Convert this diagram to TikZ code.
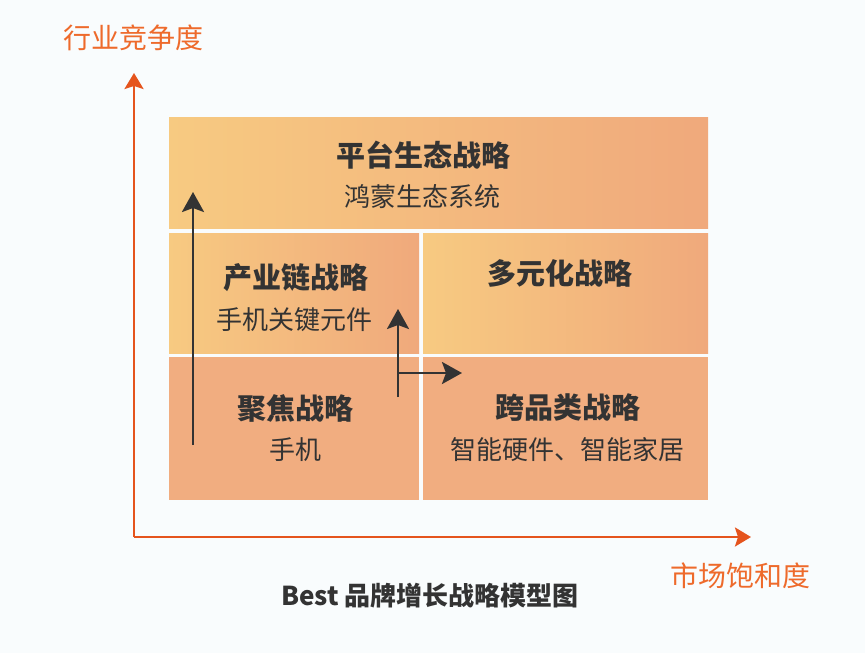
\documentclass[tikz,border=0pt]{standalone}
\usepackage{fontspec}
\usetikzlibrary{arrows.meta}
\newfontfamily\cjk{Noto Sans CJK SC}
\definecolor{bgcol}{HTML}{F9FCFD}
\definecolor{boxl}{HTML}{F7CA81}
\definecolor{boxr}{HTML}{F0A97C}
\definecolor{boxo}{HTML}{F1AD80}
\definecolor{ink}{HTML}{333333}
\definecolor{axline}{HTML}{E5541D}
\definecolor{axtext}{HTML}{EE6A2B}

\begin{document}
\begin{tikzpicture}[x=1pt, y=-1pt,
	box/.style={inner sep=0pt, outer sep=0pt},
	warm/.style={left color=boxl, right color=boxr},
	flat/.style={fill=boxo},
	title/.style={font=\cjk\bfseries\fontsize{29}{32}\selectfont, text=ink},
	sub/.style={font=\cjk\fontsize{26}{30}\selectfont, text=ink},
	axlabel/.style={font=\cjk\fontsize{28}{32}\selectfont, text=axtext},
	axis/.style={draw=axline, line width=2.6pt, -{Stealth[length=16pt, width=19pt, inset=3pt]}},
	move/.style={draw=ink, line width=2.8pt, -{Stealth[length=20pt, width=22pt, inset=4pt]}}]
	\path[fill=bgcol] (0,0) rectangle (865,653);
	% quadrant boxes
	\node[box, warm, minimum width=539pt, minimum height=111pt] (plat) at (438.5,172.5) {};
	\node[box, warm, minimum width=250pt, minimum height=120pt] (chain) at (294,293) {};
	\node[box, warm, minimum width=285pt, minimum height=120pt] (multi) at (565.5,293) {};
	\node[box, flat, minimum width=250pt, minimum height=143pt] (focus) at (294,428.5) {};
	\node[box, flat, minimum width=285pt, minimum height=143pt] (cross) at (565.5,428.5) {};
	% labels
	\node[title] (platT) at (423,155) {平台生态战略};
	\node[sub] (platS) at (422,197) {鸿蒙生态系统};
	\node[title] (chainT) at (296,278) {产业链战略};
	\node[sub] (chainS) at (294,320) {手机关键元件};
	\node[title] (multiT) at (560,273) {多元化战略};
	\node[title] (focusT) at (295,408) {聚焦战略};
	\node[sub] (focusS) at (295,450) {手机};
	\node[title] (crossT) at (568,408) {跨品类战略};
	\node[sub] (crossS) at (567,450) {智能硬件、智能家居};
	% axes
	\coordinate (orig) at (134,537);
	\coordinate (ytop) at (134,73);
	\coordinate (xend) at (751,537);
	\draw[axis] (orig) -- (ytop);
	\draw[axis] (orig) -- (xend);
	\node[axlabel] (ylab) at (133,38) {行业竞争度};
	\node[axlabel] (xlab) at (740,576) {市场饱和度};
	% growth paths
	\coordinate (p0) at (193,445);
	\coordinate (p1) at (193,192);
	\coordinate (q0) at (398,397);
	\coordinate (q1) at (398,309);
	\coordinate (r0) at (398,373);
	\coordinate (r1) at (462,373);
	\draw[move] (p0) -- (p1);
	\draw[move] (q0) -- (q1);
	\draw[move] (r0) -- (r1);
	\node[font=\cjk\bfseries\fontsize{26}{30}\selectfont, text=ink] (cap) at (430,596) {Best 品牌增长战略模型图};
\end{tikzpicture}
\end{document}
